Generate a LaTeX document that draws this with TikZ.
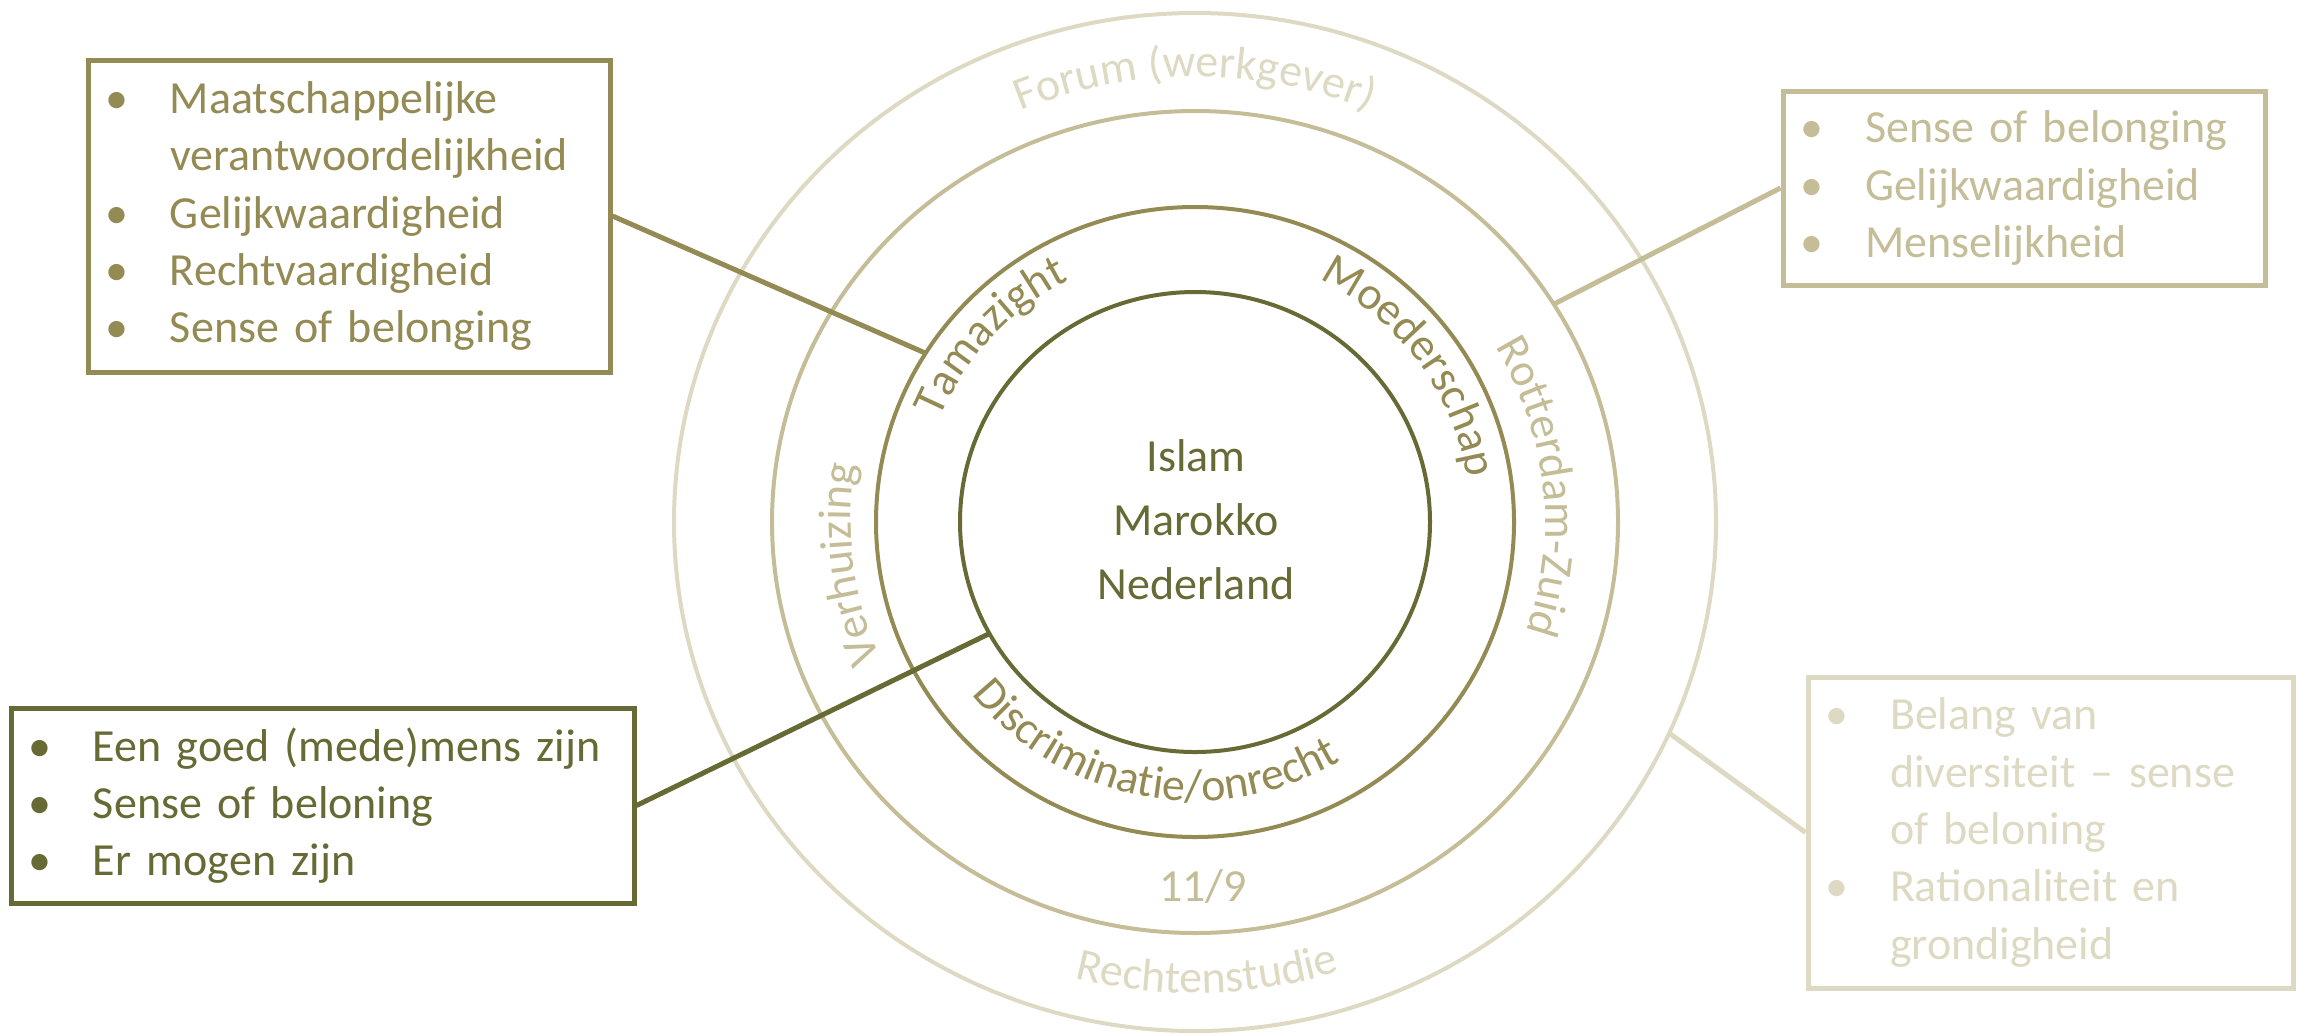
\documentclass[tikz,border=0pt]{standalone}
\usepackage{fontspec}
\setmainfont{Carlito}
\usepackage{tikz}
\usetikzlibrary{calc,decorations.text}

\definecolor{olivedark}{HTML}{676A35}
\definecolor{olivemid}{HTML}{948A54}
\definecolor{tanmid}{HTML}{C4BD97}
\definecolor{tanlight}{HTML}{DDD9C3}

\newcommand{\ringfont}{\fontsize{23}{28.65}\selectfont}
\newcommand{\bitem}{\makebox[35pt][l]{\makebox[17pt]{\textbullet}}}
\newcommand{\bcont}{\hspace*{35pt}}

\begin{document}
\begin{tikzpicture}[x=0.5pt,y=0.5pt,
		ring/.style={line width=2pt},
		valuebox/.style={draw,line width=2.5pt,align=left,inner xsep=6pt,inner ysep=0pt},
		link/.style={line width=2.5pt},
		ringtext/.style={decorate,decoration={text along path,text align=center,text color=#1}}]

		\tikzstyle{every node}=[font=\ringfont]

		\useasboundingbox (0,0) rectangle (2300,-1035);

		\coordinate (c) at (1195,-522);

		% rings
		\draw[ring,tanlight] (c) ellipse [x radius=521,y radius=509];
		\draw[ring,tanmid] (c) ellipse [x radius=423,y radius=411];
		\draw[ring,olivemid] (c) ellipse [x radius=319,y radius=315];
		\draw[ring,olivedark] (c) ellipse [x radius=235,y radius=230];

		% labels on the rings
		\path[ringtext=tanlight,decoration={text={|\ringfont|Forum (werkgever)}}]
			($(c)+(150:456 and 445)$) arc [start angle=150,end angle=30,x radius=456,y radius=445];
		\path[ringtext=tanlight,decoration={text={|\ringfont|Rechtenstudie}}]
			($(c)+(211.5:482 and 471)$) arc [start angle=211.5,end angle=331.5,x radius=482,y radius=471];
		\path[ringtext=tanmid,decoration={text={|\ringfont|Rotterdam-Zuid}}]
			($(c)+(66:350 and 341)$) arc [start angle=66,end angle=-54,x radius=350,y radius=341];
		\path[ringtext=tanmid,decoration={text={|\ringfont|Verhuizing}}]
			($(c)+(247:344 and 336)$) arc [start angle=247,end angle=127,x radius=344,y radius=336];
		\path[ringtext=olivemid,decoration={text={|\ringfont|Tamazight}}]
			($(c)+(197.7:276 and 272)$) arc [start angle=197.7,end angle=77.7,x radius=276,y radius=272];
		\path[ringtext=olivemid,decoration={text={|\ringfont|Moederschap}}]
			($(c)+(96:276 and 272)$) arc [start angle=96,end angle=-24,x radius=276,y radius=272];
		\path[ringtext=olivemid,decoration={text={|\ringfont|Discriminatie/onrecht}}]
			($(c)+(199.5:283 and 279)$) arc [start angle=199.5,end angle=319.5,x radius=283,y radius=279];

		\node[olivedark,align=center,font=\fontsize{23}{32}\selectfont] (core) at (1196,-520) {Islam\\Marokko\\Nederland};
		\node[tanmid] (date) at (1203,-886) {11/9};

		% boxes
		\node[valuebox,olivemid,text width=249pt,minimum height=156pt] (vb_1) at (349,-216)
			{\bitem Maatschappelijke\\
			 \bcont verantwoordelijkheid\\
			 \bitem Gelijkwaardigheid\\
			 \bitem Rechtvaardigheid\\
			 \bitem Sense of belonging};
		\node[valuebox,tanmid,text width=229pt,minimum height=97pt] (vb_2) at (2024,-188)
			{\bitem Sense of belonging\\
			 \bitem Gelijkwaardigheid\\
			 \bitem Menselijkheid};
		\node[valuebox,olivedark,text width=299.5pt,minimum height=97.5pt] (vb_3) at (322.5,-805.5)
			{\bitem Een goed (mede)mens zijn\\
			 \bitem Sense of beloning\\
			 \bitem Er mogen zijn};
		\node[valuebox,tanlight,text width=230.5pt,minimum height=155.5pt] (vb_4) at (2050.5,-832.5)
			{\bitem Belang van\\
			 \bcont diversiteit -- sense\\
			 \bcont of beloning\\
			 \bitem Rationaliteit en\\
			 \bcont grondigheid};

		\coordinate (t_1) at ($(c)+(147.6:319 and 315)$);
		\coordinate (t_2) at ($(c)+(32:423 and 411)$);
		\coordinate (t_3) at ($(c)+(209:235 and 230)$);
		\coordinate (t_4) at ($(c)+(-24.5:521 and 509)$);

		\path[link] (vb_1.east) edge[olivemid] (t_1)
					(vb_2.west) edge[tanmid] (t_2)
					(vb_3.east) edge[olivedark] (t_3)
					(vb_4.west) edge[tanlight] (t_4);
\end{tikzpicture}
\end{document}
